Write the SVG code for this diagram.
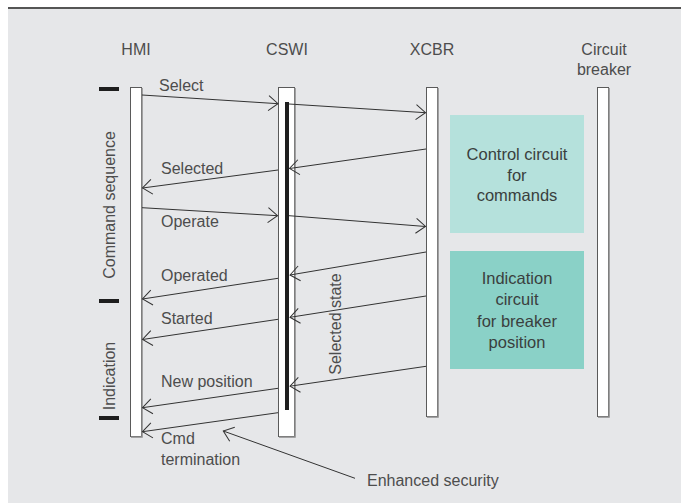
<svg xmlns="http://www.w3.org/2000/svg" width="681" height="503" viewBox="0 0 681 503">
<style>
text{font-family:"Liberation Sans",Arial,sans-serif;font-size:16px;fill:#4d4d4d}
.c{text-anchor:middle}
.bt{fill:#3a3f3e}
.bar{fill:#ffffff;stroke:#5a5a5a;stroke-width:1}
.sh{stroke:#8a8a8a;stroke-width:1.5;fill:none}
.msg{stroke:#333;stroke-width:1;fill:none;marker-end:url(#ah)}
.tick{fill:#1e1e1e}
</style>
<defs>
<marker id="ah" markerUnits="userSpaceOnUse" markerWidth="24" markerHeight="24" viewBox="-12 -12 24 24" refX="0" refY="0" orient="auto" overflow="visible">
<path d="M-9.5,-7.5 L0,0 L-9.5,7.5" fill="none" stroke="#333" stroke-width="1"/>
</marker>
</defs>
<rect x="0" y="0" width="681" height="503" fill="#ffffff"/>
<rect x="8" y="7" width="673" height="496" fill="#e6e7e9"/>
<rect x="8" y="7" width="673" height="2" fill="#555"/>

<g id="labels-left">
<rect class="tick" x="99" y="87" width="20" height="4"/>
<rect class="tick" x="99" y="299" width="20" height="4"/>
<rect class="tick" x="99" y="416" width="20" height="4"/>
<text transform="translate(115,205) rotate(-90)" class="c">Command sequence</text>
<text transform="translate(115,376) rotate(-90)" class="c">Indication</text>
</g>

<g id="hmi">
<text x="136" y="55" class="c">HMI</text>
<rect class="bar" x="130.5" y="87.5" width="11" height="349"/>
<path class="sh" d="M142,88 V437 H131"/>
</g>

<g id="cswi">
<text x="287" y="55" class="c">CSWI</text>
<rect class="bar" x="278.5" y="87.5" width="16" height="349"/>
<path class="sh" d="M295,88 V437 H279"/>
<rect x="285" y="102" width="4" height="308" fill="#1e1e1e"/>
</g>

<g id="xcbr">
<text x="432" y="55" class="c">XCBR</text>
<rect class="bar" x="426.5" y="87.5" width="11" height="329"/>
<path class="sh" d="M438,88 V417 H427"/>
</g>

<g id="breaker">
<text x="604" y="55" class="c">Circuit</text>
<text x="604" y="75" class="c">breaker</text>
<rect class="bar" x="597.5" y="87.5" width="11" height="329"/>
<path class="sh" d="M609,88 V417 H598"/>
</g>

<g id="control-circuit">
<rect x="450" y="115" width="134" height="118" fill="#b5e1dc"/>
<text x="517" y="160" class="c bt" style="font-size:16.5px">Control circuit</text>
<text x="517" y="181" class="c bt" style="font-size:16.5px">for</text>
<text x="517" y="201" class="c bt" style="font-size:16.5px">commands</text>
</g>

<g id="indication-circuit">
<rect x="450" y="251" width="134" height="118" fill="#8ad1c7"/>
<text x="517" y="284" class="c bt" style="font-size:16.5px">Indication</text>
<text x="517" y="305" class="c bt" style="font-size:16.5px">circuit</text>
<text x="517" y="327" class="c bt" style="font-size:16.5px">for breaker</text>
<text x="517" y="348" class="c bt" style="font-size:16.5px">position</text>
</g>

<g id="connectors">
<line class="msg" x1="142" y1="95" x2="278" y2="103.7"/>
<line class="msg" x1="289" y1="104" x2="425.5" y2="112.7"/>
<line class="msg" x1="426" y1="149" x2="289.5" y2="168.5"/>
<line class="msg" x1="278" y1="170" x2="142.5" y2="188"/>
<line class="msg" x1="142" y1="207.7" x2="277.5" y2="215.7"/>
<line class="msg" x1="289" y1="215.7" x2="425.5" y2="226.5"/>
<line class="msg" x1="426" y1="252" x2="290" y2="275"/>
<line class="msg" x1="278" y1="278.3" x2="142.5" y2="299"/>
<line class="msg" x1="426" y1="296" x2="290" y2="317.3"/>
<line class="msg" x1="278" y1="319.3" x2="142.5" y2="339.5"/>
<line class="msg" x1="426" y1="366.3" x2="290" y2="386.2"/>
<line class="msg" x1="278" y1="388.3" x2="142.5" y2="407.7"/>
<line class="msg" x1="278" y1="412.7" x2="142.5" y2="431.7"/>
<line class="msg" x1="355" y1="478.3" x2="223.3" y2="431"/>
</g>

<g id="message-labels">
<text x="159" y="91">Select</text>
<text x="161" y="174">Selected</text>
<text x="161" y="227">Operate</text>
<text x="161" y="281">Operated</text>
<text x="161" y="324">Started</text>
<text x="161" y="387">New position</text>
<text x="161" y="444">Cmd</text>
<text x="161" y="465">termination</text>
<text transform="translate(341,324) rotate(-90)" class="c">Selected state</text>
<text x="367" y="486">Enhanced security</text>
</g>
</svg>
